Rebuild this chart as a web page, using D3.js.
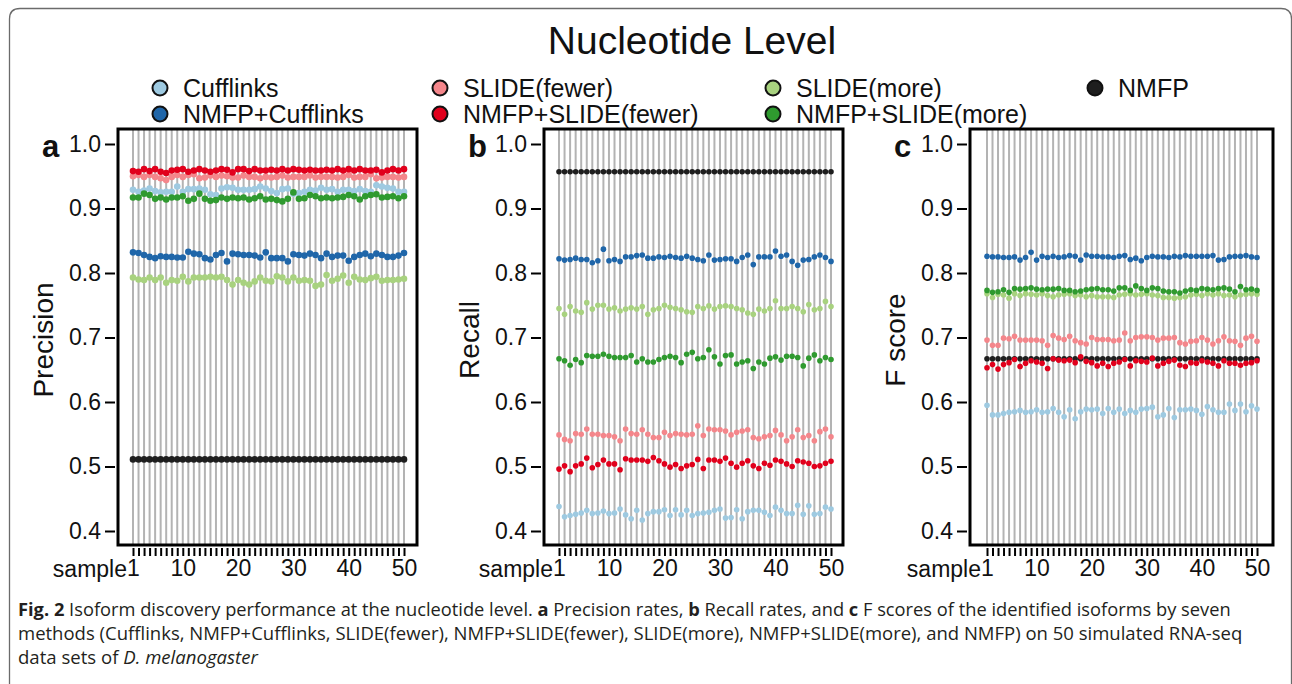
<!DOCTYPE html>
<html>
<head>
<meta charset="utf-8">
<script src="https://cdn.jsdelivr.net/npm/d3@7"></script>
<style>
  body { margin: 0; background: #fff; }
  svg { display: block; }
  .hv { font-family: "Liberation Sans", Arial, Helvetica, sans-serif; }
  .cap { font-family: "Open Sans", "Noto Sans", sans-serif; }
</style>
</head>
<body>
<svg id="fig" width="1292" height="684"></svg>
<script>
// ---- categories, ticks, colours ----
const methods = ["Cufflinks", "NMFP+Cufflinks", "SLIDE(fewer)", "NMFP+SLIDE(fewer)",
                 "SLIDE(more)", "NMFP+SLIDE(more)", "NMFP"];
const methodColors = ["#9ecae1", "#1f66a9", "#f4868b", "#e1001c", "#a8d27f", "#2f9a2f", "#1e1e1e"];
const samples = d3.range(1, 51);
const xTickLabels = [1, 10, 20, 30, 40, 50];
const yTicks = [0.4, 0.5, 0.6, 0.7, 0.8, 0.9, 1.0];

// ---- (a) precision ----
const precCufflinks = [.929,.926,.928,.931,.927,.925,.926,.926,.934,.926,.930,.930,.931,.929,.922,.921,.931,.933,.932,.929,.929,.929,.930,.934,.931,.927,.924,.930,.931,.923,.924,.926,.929,.928,.932,.929,.930,.926,.929,.929,.927,.930,.927,.926,.936,.934,.932,.931,.926,.926];
const precNmfpCufflinks = [.832,.831,.828,.825,.823,.826,.825,.825,.824,.824,.833,.830,.829,.823,.821,.828,.831,.818,.830,.829,.828,.828,.827,.824,.832,.823,.823,.823,.818,.829,.828,.827,.830,.828,.823,.830,.825,.827,.827,.819,.825,.828,.830,.826,.830,.828,.825,.825,.827,.831];
const precSlideFewer = [.950,.952,.949,.952,.949,.947,.944,.949,.952,.949,.952,.953,.947,.948,.951,.949,.951,.950,.948,.948,.951,.949,.949,.947,.949,.948,.949,.951,.948,.949,.949,.949,.951,.948,.949,.949,.949,.948,.949,.952,.948,.949,.949,.953,.947,.948,.949,.949,.948,.949];
const precNmfpSlideFewer = [.958,.957,.961,.958,.961,.957,.955,.959,.960,.961,.957,.959,.961,.959,.957,.959,.961,.960,.956,.961,.961,.958,.961,.959,.959,.960,.959,.961,.959,.961,.960,.959,.960,.959,.959,.960,.959,.961,.959,.961,.959,.961,.959,.959,.960,.956,.959,.961,.959,.961];
const precSlideMore = [.793,.790,.789,.793,.789,.793,.785,.789,.788,.794,.787,.793,.793,.793,.794,.793,.794,.789,.782,.789,.785,.782,.787,.793,.788,.787,.795,.793,.787,.793,.788,.789,.788,.780,.782,.797,.788,.791,.796,.785,.794,.790,.789,.792,.794,.788,.789,.789,.790,.791];
const precNmfpSlideMore = [.917,.917,.923,.921,.915,.917,.914,.917,.917,.919,.912,.915,.923,.915,.912,.913,.917,.915,.917,.916,.917,.914,.916,.919,.914,.915,.913,.911,.915,.925,.915,.916,.921,.919,.916,.917,.916,.917,.918,.921,.919,.914,.919,.921,.922,.917,.918,.919,.916,.919];
const precNmfp = [.511,.511,.511,.511,.511,.511,.511,.511,.511,.511,.511,.511,.511,.511,.511,.511,.511,.511,.511,.511,.511,.511,.511,.511,.511,.511,.511,.511,.511,.511,.511,.511,.511,.511,.511,.511,.511,.511,.511,.511,.511,.511,.511,.511,.511,.511,.511,.511,.511,.511];

// ---- (b) recall ----
const recCufflinks = [.438,.422,.424,.426,.428,.432,.427,.428,.431,.427,.428,.434,.425,.419,.432,.417,.427,.430,.430,.433,.424,.433,.425,.432,.424,.427,.428,.429,.432,.434,.420,.421,.433,.419,.430,.432,.432,.429,.424,.437,.432,.427,.427,.440,.426,.439,.426,.427,.437,.434];
const recNmfpCufflinks = [.822,.820,.821,.823,.821,.821,.816,.819,.837,.819,.821,.818,.825,.825,.827,.828,.823,.823,.825,.824,.826,.824,.823,.826,.823,.821,.819,.828,.820,.821,.822,.822,.818,.824,.828,.813,.825,.825,.825,.834,.826,.828,.818,.812,.820,.821,.825,.828,.824,.818];
const recSlideFewer = [.549,.542,.540,.551,.550,.558,.550,.550,.548,.548,.546,.540,.558,.551,.550,.557,.550,.545,.545,.553,.548,.551,.550,.549,.550,.563,.548,.558,.557,.557,.555,.549,.553,.555,.557,.545,.543,.546,.548,.556,.549,.540,.546,.557,.545,.548,.540,.554,.558,.546];
const recNmfpSlideFewer = [.496,.501,.492,.501,.504,.513,.498,.503,.510,.504,.504,.495,.512,.510,.510,.510,.508,.514,.509,.504,.499,.503,.497,.501,.503,.511,.497,.510,.510,.508,.513,.505,.499,.505,.509,.501,.497,.505,.502,.510,.508,.504,.500,.509,.507,.505,.500,.501,.505,.508];
const recSlideMore = [.745,.736,.748,.741,.739,.754,.744,.750,.750,.744,.746,.741,.744,.746,.744,.748,.736,.743,.745,.750,.747,.745,.743,.740,.739,.748,.745,.749,.744,.748,.749,.748,.745,.743,.738,.736,.744,.741,.745,.757,.745,.745,.748,.745,.740,.751,.743,.745,.756,.748];
const recNmfpSlideMore = [.667,.664,.657,.666,.661,.672,.671,.671,.674,.671,.669,.669,.669,.672,.662,.667,.662,.662,.666,.669,.671,.669,.661,.674,.677,.667,.669,.681,.670,.659,.672,.673,.659,.662,.664,.652,.662,.659,.668,.670,.665,.671,.671,.669,.656,.668,.673,.664,.669,.666];
const recNmfp = [.957,.957,.957,.957,.957,.957,.957,.957,.957,.957,.957,.957,.957,.957,.957,.957,.957,.957,.957,.957,.957,.957,.957,.957,.957,.957,.957,.957,.957,.957,.957,.957,.957,.957,.957,.957,.957,.957,.957,.957,.957,.957,.957,.957,.957,.957,.957,.957,.957,.957];

// ---- (c) F score ----
const fCufflinks = [.595,.580,.580,.582,.584,.585,.587,.584,.585,.588,.584,.585,.590,.584,.577,.588,.574,.585,.589,.588,.589,.582,.590,.584,.589,.582,.587,.584,.589,.590,.592,.577,.580,.590,.576,.588,.588,.589,.587,.581,.593,.588,.584,.584,.597,.587,.597,.585,.594,.589];
const fNmfpCufflinks = [.826,.825,.825,.824,.824,.825,.820,.824,.832,.820,.826,.824,.826,.824,.825,.827,.826,.820,.828,.826,.826,.825,.825,.824,.826,.827,.821,.823,.819,.824,.826,.825,.825,.824,.826,.825,.827,.826,.826,.826,.826,.827,.820,.821,.825,.826,.826,.827,.825,.824];
const fSlideFewer = [.696,.688,.688,.699,.698,.702,.696,.696,.696,.696,.695,.688,.703,.699,.697,.702,.695,.692,.690,.700,.697,.697,.697,.695,.696,.707,.695,.700,.701,.701,.700,.696,.699,.699,.700,.692,.690,.694,.695,.700,.696,.690,.695,.701,.695,.694,.688,.699,.702,.694];
const fNmfpSlideFewer = [.653,.658,.651,.658,.661,.666,.655,.660,.664,.662,.660,.652,.667,.665,.664,.665,.661,.670,.663,.661,.656,.660,.655,.660,.662,.666,.656,.664,.663,.662,.668,.656,.660,.663,.665,.657,.655,.661,.660,.664,.662,.660,.656,.664,.660,.660,.657,.660,.661,.664];
const fSlideMore = [.768,.762,.767,.766,.761,.768,.765,.768,.767,.766,.768,.765,.763,.766,.767,.768,.765,.766,.763,.765,.763,.763,.763,.762,.766,.767,.768,.766,.767,.768,.766,.765,.762,.762,.761,.762,.763,.766,.767,.765,.768,.766,.768,.765,.766,.763,.766,.767,.768,.767];
const fNmfpSlideMore = [.773,.770,.771,.774,.770,.776,.775,.776,.777,.775,.774,.775,.775,.776,.773,.773,.771,.772,.774,.775,.776,.774,.774,.772,.777,.777,.773,.780,.776,.773,.777,.776,.772,.771,.771,.769,.772,.774,.773,.776,.775,.774,.776,.777,.775,.771,.779,.774,.775,.773];
const fNmfp = [.667,.667,.667,.667,.667,.667,.667,.667,.667,.667,.667,.667,.667,.667,.667,.667,.667,.667,.667,.667,.667,.667,.667,.667,.667,.667,.667,.667,.667,.667,.667,.667,.667,.667,.667,.667,.667,.667,.667,.667,.667,.667,.667,.667,.667,.667,.667,.667,.667,.667];

// ---- panel layout ----
const panels = [
  { letter: "a", label: "Precision", left: 118, right: 417, x0: 133, x1: 404, r: 3.3,
    series: [precCufflinks, precNmfpCufflinks, precSlideFewer, precNmfpSlideFewer, precSlideMore, precNmfpSlideMore, precNmfp] },
  { letter: "b", label: "Recall", left: 544, right: 843, x0: 559, x1: 831, r: 2.8,
    series: [recCufflinks, recNmfpCufflinks, recSlideFewer, recNmfpSlideFewer, recSlideMore, recNmfpSlideMore, recNmfp] },
  { letter: "c", label: "F score", left: 970, right: 1273, x0: 987, x1: 1257, r: 2.8,
    series: [fCufflinks, fNmfpCufflinks, fSlideFewer, fNmfpSlideFewer, fSlideMore, fNmfpSlideMore, fNmfp] }
];
const boxTop = 129, boxBottom = 545;
const drawOrder = [6, 0, 1, 2, 3, 4, 5];

const svg = d3.select("#fig");

// outer figure frame with rounded corners
svg.append("path")
  .attr("d", "M9.5,700 V19 Q9.5,8.5 20,8.5 H1281 Q1291.5,8.5 1291.5,19 V700")
  .attr("fill", "none").attr("stroke", "#6b6b6b").attr("stroke-width", 1.3);

// title
svg.append("text").attr("class", "hv")
  .attr("x", 692).attr("y", 54).attr("text-anchor", "middle")
  .attr("font-size", 39).attr("fill", "#111").text("Nucleotide Level");

// legend
const legendCols = [160, 440, 773, 1095];
const legendRows = [88, 114];
const legendPos = [[0,0],[0,1],[1,0],[1,1],[2,0],[2,1],[3,0]];
const lg = svg.append("g").attr("class", "legend");
methods.forEach((m, i) => {
  const [c, r] = legendPos[i];
  const g = lg.append("g").attr("transform", `translate(${legendCols[c]},${legendRows[r]})`);
  g.append("circle").attr("r", 7.5).attr("fill", methodColors[i])
    .attr("stroke", "#111").attr("stroke-width", 2);
  g.append("text").attr("class", "hv").attr("x", 23).attr("y", 9)
    .attr("font-size", 25).attr("fill", "#111").text(m);
});

// panels
panels.forEach(p => {
  const x = d3.scaleLinear().domain([1, 50]).range([p.x0, p.x1]);
  const y = d3.scaleLinear().domain([0.4, 1.0]).range([531, 144]);
  const g = svg.append("g");

  // sample guide lines
  g.append("g").selectAll("line").data(samples).join("line")
    .attr("x1", d => x(d)).attr("x2", d => x(d))
    .attr("y1", boxTop).attr("y2", boxBottom)
    .attr("stroke", "#b3b3b3").attr("stroke-width", 2);

  // points
  drawOrder.forEach(si => {
    g.append("g").selectAll("circle").data(p.series[si]).join("circle")
      .attr("cx", (d, i) => x(samples[i])).attr("cy", d => y(d))
      .attr("r", p.r).attr("fill", methodColors[si]);
  });

  // frame
  g.append("rect").attr("x", p.left).attr("y", boxTop)
    .attr("width", p.right - p.left).attr("height", boxBottom - boxTop)
    .attr("fill", "none").attr("stroke", "#000").attr("stroke-width", 3);

  // y axis
  const ya = g.append("g").attr("class", "hv")
    .attr("transform", `translate(${p.left - 3},0)`)
    .call(d3.axisLeft(y).tickValues(yTicks).tickSize(10).tickPadding(4).tickFormat(d3.format(".1f")));
  ya.select(".domain").remove();
  ya.selectAll(".tick line").attr("stroke", "#000").attr("stroke-width", 2);
  ya.selectAll(".tick text").attr("font-size", 23).attr("fill", "#111")
    .attr("font-family", "'Liberation Sans', Arial, sans-serif");

  // x axis
  const xa = g.append("g")
    .attr("transform", `translate(0,${boxBottom + 3})`)
    .call(d3.axisBottom(x).tickValues(samples).tickSize(8).tickPadding(4)
      .tickFormat(d => xTickLabels.includes(d) ? d : ""));
  xa.select(".domain").remove();
  xa.selectAll(".tick line").attr("stroke", "#000").attr("stroke-width", 2);
  xa.selectAll(".tick text").attr("font-size", 23).attr("fill", "#111")
    .attr("font-family", "'Liberation Sans', Arial, sans-serif");

  g.append("text").attr("class", "hv")
    .attr("x", x(1) - 6).attr("y", 577).attr("text-anchor", "end")
    .attr("font-size", 23).attr("fill", "#111").text("sample");

  // axis title and panel letter
  g.append("text").attr("class", "hv")
    .attr("transform", `translate(${p.left - 65},340) rotate(-90)`)
    .attr("text-anchor", "middle").attr("font-size", 28).attr("fill", "#111")
    .text(p.label);
  g.append("text").attr("class", "hv")
    .attr("x", p.left - 76).attr("y", 157)
    .attr("font-size", 31).attr("font-weight", "bold").attr("fill", "#111")
    .text(p.letter);
});

// caption
const captionLines = [
  { y: 616, width: 1214, parts: [["Fig. 2", "b"], [" Isoform discovery performance at the nucleotide level. ", ""], ["a", "b"], [" Precision rates, ", ""], ["b", "b"], [" Recall rates, and ", ""], ["c", "b"], [" F scores of the identified isoforms by seven", ""]] },
  { y: 640, width: 1225, parts: [["methods (Cufflinks, NMFP+Cufflinks, SLIDE(fewer), NMFP+SLIDE(fewer), SLIDE(more), NMFP+SLIDE(more), and NMFP) on 50 simulated RNA-seq", ""]] },
  { y: 664, width: 240, parts: [["data sets of ", ""], ["D. melanogaster", "i"]] }
];
captionLines.forEach(l => {
  const t = svg.append("text").attr("class", "cap").attr("font-size", 18).attr("fill", "#231f20");
  l.parts.forEach(([s, st]) => {
    t.append("tspan").text(s)
      .attr("font-weight", st === "b" ? "bold" : null)
      .attr("font-style", st === "i" ? "italic" : null);
  });
  const natural = t.node().getComputedTextLength();
  t.attr("transform", `translate(18,${l.y}) scale(${l.width / natural},1)`);
});
</script>
</body>
</html>
